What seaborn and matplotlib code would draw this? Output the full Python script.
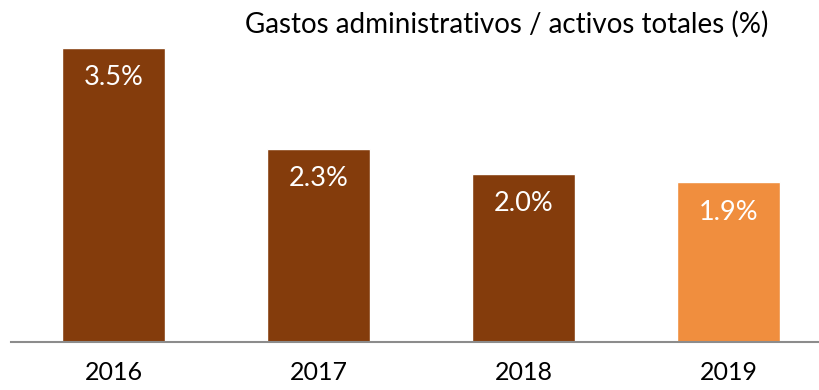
import matplotlib
matplotlib.use("Agg")
import matplotlib.pyplot as plt
import seaborn as sns
import pandas as pd

years = ["2016", "2017", "2018", "2019"]
values = [3.5, 2.3, 2.0, 1.9]
labels = ["3.5%", "2.3%", "2.0%", "1.9%"]
colors = ["#843C0C", "#843C0C", "#843C0C", "#F08E3E"]
title = "Gastos administrativos / activos totales (%)"

sns.set_theme(style="white")
plt.rcParams["font.family"] = ["Lato", "DejaVu Sans"]

df = pd.DataFrame({"year": years, "value": values})

fig = plt.figure(figsize=(8.19, 3.9), dpi=100)
ax = fig.add_axes([11 / 819, 48 / 390, 808 / 819, 342 / 390])

sns.barplot(data=df, x="year", y="value", hue="year", palette=colors,
            width=0.5, legend=False, ax=ax, saturation=1)

ax.set_xlim(-0.5, 3.5 - 12 / 205)
ax.set_ylim(0, 342 / 84)

for i, (v, lab) in enumerate(zip(values, labels)):
    ax.annotate(lab, xy=(i, v), xytext=(0, -21.5), textcoords="offset points",
                ha="center", va="center", color="white", fontsize=19.5)

for s in ["top", "right", "left"]:
    ax.spines[s].set_visible(False)
ax.spines["bottom"].set_color("#8C8C8C")
ax.spines["bottom"].set_linewidth(1.5)

ax.set_yticks([])
ax.set_xlabel("")
ax.set_ylabel("")
ax.tick_params(axis="x", length=0, pad=14, labelsize=18, labelcolor="black")

fig.text(768 / 819, 1 - 24 / 390, title, ha="right", va="center",
         fontsize=20, color="black")

fig.savefig("out.png", dpi=100)
